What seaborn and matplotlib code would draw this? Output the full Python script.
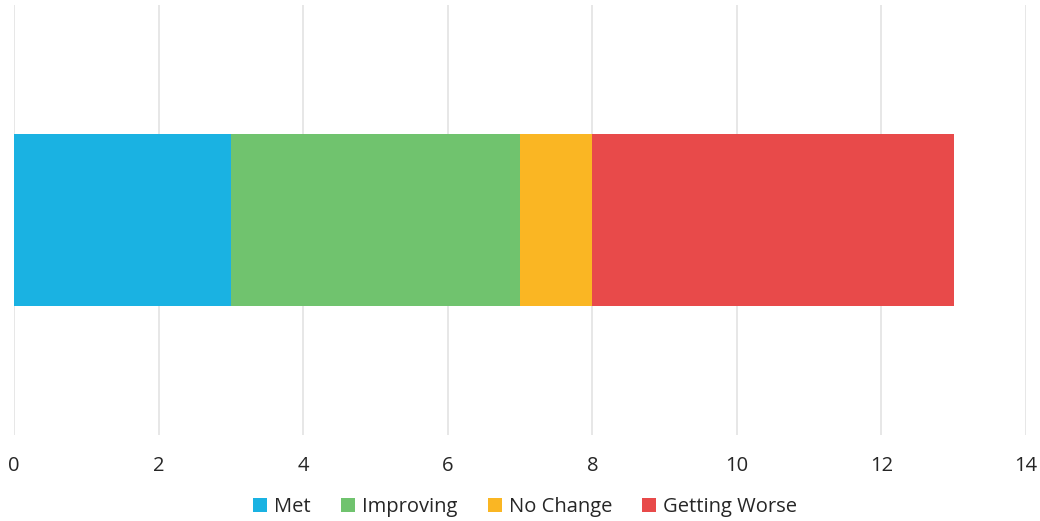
import numpy as np
import pandas as pd
import matplotlib.pyplot as plt
from matplotlib.patches import Patch
import seaborn as sns

# -----------------------------------------------------------------------------
# Data
# -----------------------------------------------------------------------------
categories = ["Met", "Improving", "No Change", "Getting Worse"]
values = [3, 4, 1, 5]
colors = ["#1AB2E2", "#70C36E", "#FAB623", "#E84A4A"]
xticks = [0, 2, 4, 6, 8, 10, 12, 14]

# cumulative ends for stacking
df = pd.DataFrame({"status": categories, "value": values, "color": colors})
df["end"] = np.cumsum(df["value"])
df["row"] = "all"

# -----------------------------------------------------------------------------
# Style
# -----------------------------------------------------------------------------
sns.set_theme(style="white")
plt.rcParams["font.family"] = ["Open Sans", "DejaVu Sans"]
text_color = "#262626"

fig = plt.figure(figsize=(10.4, 5.21), dpi=100)
ax = fig.add_axes([0.0135, 0.165, 0.973, 0.825])

# draw largest cumulative first so shorter segments sit on top
for _, r in df.iloc[::-1].iterrows():
    sns.barplot(
        x=[r["end"]],
        y=[r["row"]],
        orient="h",
        color=r["color"],
        saturation=1,
        width=0.4,
        linewidth=0,
        ax=ax,
    )

ax.set_xlim(0, 14)
ax.set_ylim(0.5, -0.5)
ax.set_xticks(xticks)
ax.set_xticklabels([str(t) for t in xticks], fontsize=14.5, color=text_color)
ax.set_yticks([])
ax.set(xlabel="", ylabel="")
ax.grid(axis="x", color="#E3E3E3", lw=1.2)
ax.set_axisbelow(True)
ax.tick_params(axis="x", length=0, pad=15)
for s in ax.spines.values():
    s.set_visible(False)

handles = [Patch(facecolor=c, edgecolor="none") for c in colors]
fig.legend(
    handles,
    categories,
    loc="center",
    bbox_to_anchor=(0.505, 0.027),
    ncol=4,
    frameon=False,
    fontsize=14.5,
    handlelength=0.7,
    handleheight=0.7,
    handletextpad=0.35,
    columnspacing=1.5,
    labelcolor=text_color,
)

fig.savefig("out.png", dpi=100)
